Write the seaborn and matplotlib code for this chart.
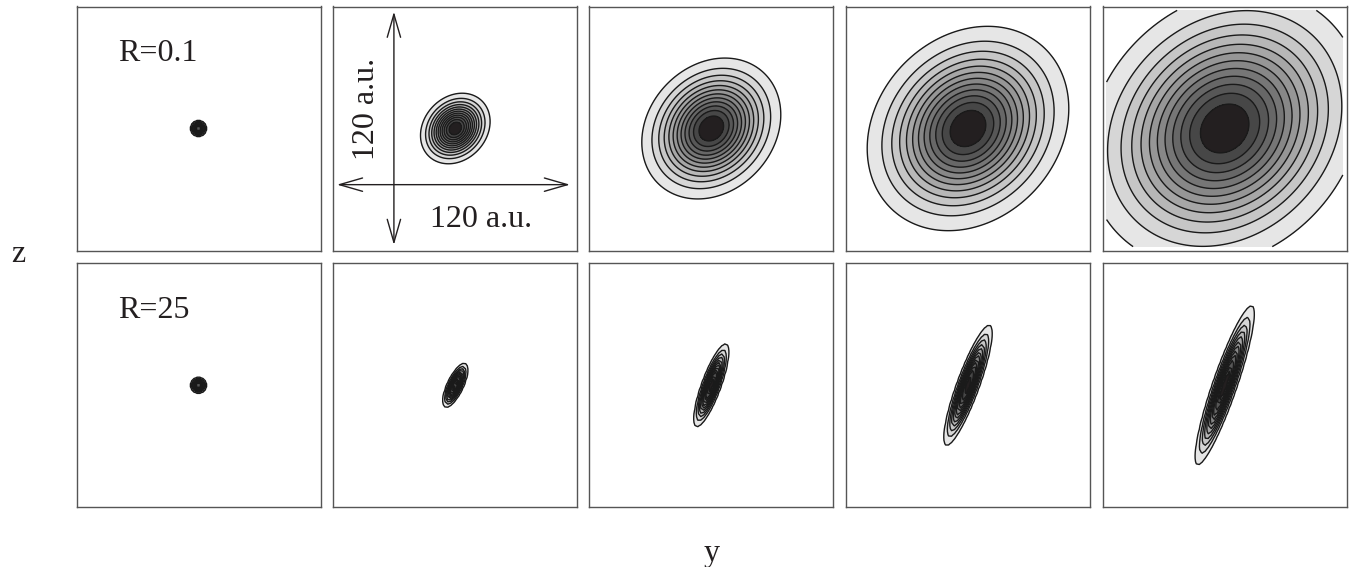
import numpy as np
import matplotlib
matplotlib.use("Agg")
import matplotlib.pyplot as plt
import seaborn as sns

sns.set_theme(style="white")
plt.rcParams['font.family'] = ['Liberation Serif', 'DejaVu Serif']

# ---- data ----
R_labels = ["R=0.1", "R=25"]
# semi-axes (a.u.) of the outermost contour and tilt of the major axis (deg)
row1_major = [4.1, 19.8, 39.5, 57.3, 77.4]
row1_minor = [4.1, 16.2, 32.4, 47.0, 64.0]
row1_tilt = [0, 47, 47, 47, 46]
row2_major = [4.1, 12.4, 22.7, 33.0, 43.4]
row2_minor = [4.1, 4.1, 4.9, 5.7, 6.2]
row2_tilt = [0, 65, 70, 70, 71]
n_levels = 13            # contours at k/13 of the peak, k = 1..12
scale_label = "120 a.u."
x_label, y_label = "y", "z"

# ---- layout ----
W, H = 1361, 567
lefts_px = [76.5, 333.3, 589.3, 846.0, 1102.7]
tops_px = [6.5, 263.3]
size_px = 244.0
half_axis = 63.0     # axes span in a.u.
half_data = 61.0     # computed domain in a.u.

fill_colors = sns.blend_palette(["#e6e6e6", "#474747"], n_levels - 2) + ["#231f20"]
levels = list(np.arange(1, n_levels) / n_levels) + [1.01]

def field(a_out, b_out, tilt, npts):
    k = np.sqrt(2 * np.log(n_levels))
    sa, sb = a_out / k, b_out / k
    g = np.linspace(-half_data, half_data, npts)
    Y, Z = np.meshgrid(g, g)
    t = np.deg2rad(tilt)
    u = Y * np.cos(t) + Z * np.sin(t)
    v = -Y * np.sin(t) + Z * np.cos(t)
    F = np.exp(-0.5 * ((u / sa) ** 2 + (v / sb) ** 2))
    return Y, Z, F

fig = plt.figure(figsize=(W / 100, H / 100), dpi=100)
rows = [(row1_major, row1_minor, row1_tilt), (row2_major, row2_minor, row2_tilt)]
for r, (maj, mnr, tlt) in enumerate(rows):
    for c in range(5):
        ax = fig.add_axes([lefts_px[c] / W, 1 - (tops_px[r] + size_px) / H,
                           size_px / W, size_px / H])
        coarse = (r == 1) or (c == 0)
        Y, Z, F = field(maj[c], mnr[c], tlt[c], 80 if coarse else 401)
        ax.contourf(Y, Z, F, levels=levels, colors=fill_colors)
        ax.contour(Y, Z, F, levels=levels[:-1], colors="#1a1a1a", linewidths=1.0)
        ax.set_xlim(-half_axis, half_axis)
        ax.set_ylim(-half_axis, half_axis)
        ax.set_xticks([])
        ax.set_yticks([])
        for s in ax.spines.values():
            s.set_color("#555555")
            s.set_linewidth(1.0)
        if c == 0:
            ax.text(0.17, 0.777, R_labels[r], transform=ax.transAxes,
                    fontsize=23, ha="left", va="baseline", color="#231f20")
        if r == 0 and c == 1:
            ap = dict(arrowstyle="<->,head_length=1.66,head_width=0.48",
                      color="#231f20", lw=1.0, shrinkA=0, shrinkB=0,
                      mutation_scale=10)
            ax.annotate("", xy=(59.2, -29.0), xytext=(-61.1, -29.0), arrowprops=ap)
            ax.annotate("", xy=(-31.7, 60.3), xytext=(-31.7, -60.1), arrowprops=ap)
            ax.text(13.3, -47.2, scale_label, fontsize=23, ha="center",
                    va="center", color="#231f20")
            ax.text(-45.6, 10.1, scale_label, fontsize=23, ha="center",
                    va="center", rotation=90, color="#231f20")

fig.text(18 / W, 1 - 255 / H, y_label, fontsize=23, ha="center", va="center",
         color="#231f20")
fig.text(712 / W, 1 - 553 / H, x_label, fontsize=23, ha="center", va="center",
         color="#231f20")

fig.savefig("out.png", dpi=100)
